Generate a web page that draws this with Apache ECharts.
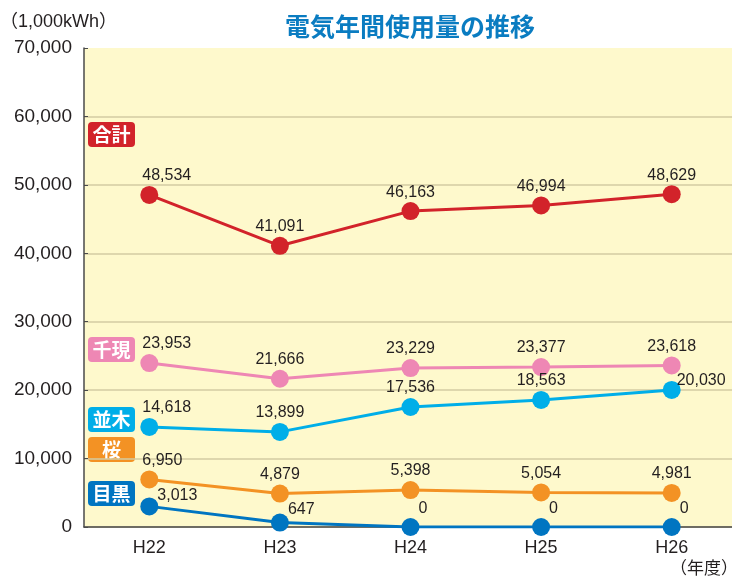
<!DOCTYPE html>
<html>
<head>
<meta charset="utf-8">
<script src="https://cdn.jsdelivr.net/npm/echarts@6/dist/echarts.min.js"></script>
<style>
  html, body { margin: 0; padding: 0; background: #fff; overflow: hidden; }
  /* plot area runs a few px past the right edge of the window */
  #chart { width: 737px; height: 578px; }
</style>
</head>
<body>
<div id="chart"></div>
<script>
// data
const years = ["H22", "H23", "H24", "H25", "H26"];
const total = [48534, 41091, 46163, 46994, 48629];    // 合計
const sengen = [23953, 21666, 23229, 23377, 23618];   // 千現
const namiki = [14618, 13899, 17536, 18563, 20030];   // 並木
const sakura = [6950, 4879, 5398, 5054, 4981];        // 桜
const meguro = [3013, 647, 0, 0, 0];                  // 目黒
const yTicks = [0, 10000, 20000, 30000, 40000, 50000, 60000, 70000];

const FONT = "'Liberation Sans', 'Noto Sans CJK JP', sans-serif";
const JP = "'Noto Sans CJK JP', sans-serif";

// label tweaks per point (first column labels start a little left of the dot)
function pts(values, name) {
  return values.map((v, i) => {
    const item = { value: v };
    if (name === "meguro") {
      const dy = [-11, -13, -18, -18, -18][i];
      item.label = { position: "right", distance: -1, offset: [0, dy] };
    } else if (name === "namiki" && i === 4) {
      item.label = { position: "right", distance: -4, offset: [0, -9] };
    } else if (i === 0) {
      item.label = { align: "left", offset: [-7, 0] };
    }
    return item;
  });
}

function line(name, key, values, color) {
  return {
    name: name,
    type: "line",
    data: pts(values, key),
    symbol: "circle",
    symbolSize: 18,
    lineStyle: { color: color, width: 3 },
    itemStyle: { color: color },
    label: {
      show: true,
      position: "top",
      distance: 2,
      color: "#231f20",
      fontSize: 16,
      fontFamily: FONT,
      formatter: (p) => p.value.toLocaleString("en-US"),
    },
    animation: false,
  };
}

// left-side name tags
function tag(text, top, color) {
  return {
    type: "group",
    left: 88,
    top: top,
    children: [
      { type: "rect", shape: { x: 0, y: 0, width: 47, height: 25, r: 4 }, style: { fill: color } },
      {
        type: "text",
        x: 23.5, y: 13,
        style: {
          text: text, fill: "#fff", font: "bold 19px " + JP,
          align: "center", verticalAlign: "middle",
        },
      },
    ],
  };
}

const chart = echarts.init(document.getElementById("chart"));
chart.setOption({
  backgroundColor: "#ffffff",
  title: {
    text: "電気年間使用量の推移",
    left: 405,
    textAlign: "center",
    top: 9,
    textStyle: { color: "#0a7cc1", fontSize: 25, fontWeight: "bold", fontFamily: JP },
  },
  grid: {
    left: 84, top: 48, bottom: 51, right: 0,
    show: true, backgroundColor: "#fef9cc", borderWidth: 0,
  },
  xAxis: {
    type: "category",
    data: years,
    boundaryGap: true,
    axisLine: { lineStyle: { color: "#4a4a4a", width: 1.5 } },
    axisTick: { inside: true, length: 4, lineStyle: { color: "#4a4a4a" } },
    axisLabel: { color: "#231f20", fontSize: 18, fontFamily: FONT, margin: 12 },
  },
  yAxis: {
    type: "value",
    min: yTicks[0],
    max: yTicks[yTicks.length - 1],
    interval: 10000,
    axisLine: { show: true, lineStyle: { color: "#4a4a4a", width: 1.5 } },
    axisTick: { show: true, inside: true, length: 4, lineStyle: { color: "#4a4a4a" } },
    axisLabel: {
      color: "#231f20", fontSize: 19, fontFamily: FONT, margin: 12,
      formatter: (v) => v.toLocaleString("en-US"),
    },
    splitLine: { show: true, showMaxLine: false, lineStyle: { color: "#d3cba3", width: 1.5 } },
  },
  series: [
    line("目黒", "meguro", meguro, "#0075c1"),
    line("桜", "sakura", sakura, "#f39224"),
    line("並木", "namiki", namiki, "#00aee8"),
    line("千現", "sengen", sengen, "#ee87b4"),
    line("合計", "total", total, "#d2232a"),
  ],
  graphic: [
    { type: "text", left: 0, top: 13, style: { text: "（1,000kWh）", fill: "#231f20", font: "18px " + FONT } },
    { type: "text", left: 670, top: 559, style: { text: "（年度）", fill: "#231f20", font: "17px " + JP } },
    tag("合計", 122, "#d2232a"),
    tag("千現", 337, "#ee87b4"),
    tag("並木", 407, "#00aee8"),
    tag("桜", 437, "#f39224"),
    tag("目黒", 481, "#0075c1"),
  ],
});
</script>
</body>
</html>
